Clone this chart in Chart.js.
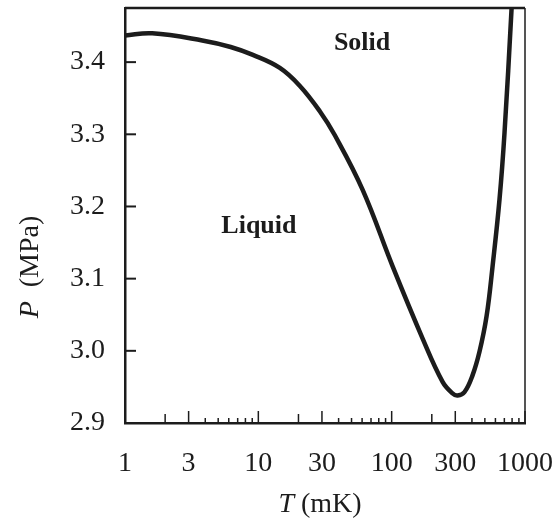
<!DOCTYPE html>
<html>
<head>
<meta charset="utf-8">
<script src="https://cdn.jsdelivr.net/npm/chart.js@4/dist/chart.umd.min.js"></script>
<style>
  body { margin: 0; background: #fff; }
  canvas { display: block; }
</style>
</head>
<body>
<canvas id="phase-chart" width="559" height="519"></canvas>
<script>
// Melting curve of 3He
const temps = [1.0, 1.6, 3.8, 6.2, 9.1, 14.5, 20.5, 28.9, 37.4, 60.6, 101.7, 170.7, 241, 286, 312, 352, 404, 456, 515, 571, 644, 702, 793, 806];
const pressures = [3.437, 3.440, 3.430, 3.421, 3.410, 3.392, 3.367, 3.332, 3.299, 3.223, 3.117, 3.017, 2.957, 2.941, 2.938, 2.943, 2.966, 2.999, 3.048, 3.117, 3.210, 3.302, 3.474, 3.506];

const xTickValues = [1, 3, 10, 30, 100, 300, 1000];
const xMinorTicks = [2, 4, 5, 6, 7, 8, 9, 20, 40, 50, 60, 70, 80, 90, 200, 400, 500, 600, 700, 800, 900];
const yTickValues = [2.9, 3.0, 3.1, 3.2, 3.3, 3.4];

// region labels placed in data coordinates
const regionLabels = [
    { text: 'Solid', t: 60, p: 3.426 },
    { text: 'Liquid', t: 10.1, p: 3.172 }
];

const serif = '"Liberation Serif", "DejaVu Serif", serif';
const ink = '#1c1c1c';

// inward ticks, frame, axis titles and region labels
const decorations = {
    id: 'decorations',
    afterDraw(chart) {
        const ctx = chart.ctx;
        const area = chart.chartArea;
        const x = chart.scales.x;
        const y = chart.scales.y;
        ctx.save();
        ctx.strokeStyle = ink;

        // top and right frame
        ctx.lineWidth = 2.5;
        ctx.beginPath();
        ctx.moveTo(area.left, area.top);
        ctx.lineTo(area.right, area.top);
        ctx.stroke();
        ctx.lineWidth = 1.5;
        ctx.beginPath();
        ctx.moveTo(area.right, area.top);
        ctx.lineTo(area.right, area.bottom);
        ctx.stroke();

        // x ticks pointing into the plot
        ctx.lineWidth = 1.5;
        xTickValues.forEach(v => {
            const px = x.getPixelForValue(v);
            ctx.beginPath();
            ctx.moveTo(px, area.bottom);
            ctx.lineTo(px, area.bottom - 12);
            ctx.stroke();
        });
        xMinorTicks.forEach(v => {
            const px = x.getPixelForValue(v);
            const len = String(v)[0] === '2' ? 9 : 5;
            ctx.beginPath();
            ctx.moveTo(px, area.bottom);
            ctx.lineTo(px, area.bottom - len);
            ctx.stroke();
        });

        // y ticks pointing into the plot
        ctx.lineWidth = 2;
        yTickValues.forEach(v => {
            const py = y.getPixelForValue(v);
            ctx.beginPath();
            ctx.moveTo(area.left, py);
            ctx.lineTo(area.left + 11, py);
            ctx.stroke();
        });

        // region labels
        ctx.fillStyle = ink;
        ctx.font = 'bold 26px ' + serif;
        ctx.textAlign = 'center';
        ctx.textBaseline = 'middle';
        regionLabels.forEach(l => {
            ctx.fillText(l.text, x.getPixelForValue(l.t), y.getPixelForValue(l.p));
        });

        // x axis title: italic T then (mK)
        ctx.textAlign = 'left';
        ctx.textBaseline = 'alphabetic';
        const italic = 'italic 28px ' + serif;
        const upright = '28px ' + serif;
        ctx.font = italic;
        const wT = ctx.measureText('T').width;
        ctx.font = upright;
        const wRest = ctx.measureText(' (mK)').width;
        let startX = 320 - (wT + wRest) / 2;
        ctx.font = italic;
        ctx.fillText('T', startX, 512);
        ctx.font = upright;
        ctx.fillText(' (mK)', startX + wT, 512);

        // y axis title rotated
        ctx.translate(38, 267);
        ctx.rotate(-Math.PI / 2);
        ctx.font = italic;
        const wP = ctx.measureText('P').width;
        ctx.font = upright;
        const wRestY = ctx.measureText('  (MPa)').width;
        startX = -(wP + wRestY) / 2;
        ctx.font = italic;
        ctx.fillText('P', startX, 0);
        ctx.font = upright;
        ctx.fillText('  (MPa)', startX + wP, 0);
        ctx.restore();
    }
};

const ctx = document.getElementById('phase-chart').getContext('2d');
const chart = new Chart(ctx, {
    type: 'line',
    data: {
        datasets: [{
            data: temps.map((t, i) => ({ x: t, y: pressures[i] })),
            borderColor: ink,
            borderWidth: 4.5,
            pointRadius: 0,
            fill: false,
            tension: 0.4
        }]
    },
    options: {
        responsive: false,
        animation: false,
        layout: { padding: { top: 8, right: 34, left: 0, bottom: 0 } },
        plugins: {
            legend: { display: false },
            tooltip: { enabled: false }
        },
        scales: {
            x: {
                type: 'logarithmic',
                min: 1,
                max: 1000,
                afterBuildTicks: scale => {
                    scale.ticks = xTickValues.map(v => ({ value: v }));
                },
                afterFit: scale => {
                    scale.height = 96;
                    scale.paddingLeft = 0;
                    scale.paddingRight = 0;
                },
                grid: { display: false, drawTicks: false },
                border: { display: true, color: ink, width: 2.5 },
                ticks: {
                    autoSkip: false,
                    maxRotation: 0,
                    padding: 24,
                    color: ink,
                    font: { family: serif, size: 28 },
                    callback: v => String(v)
                }
            },
            y: {
                min: 2.9,
                max: 3.475,
                afterBuildTicks: scale => {
                    scale.ticks = yTickValues.map(v => ({ value: v }));
                },
                afterFit: scale => {
                    scale.width = 125;
                    scale.paddingTop = 0;
                    scale.paddingBottom = 0;
                },
                grid: { display: false, drawTicks: false },
                border: { display: true, color: ink, width: 2.5 },
                ticks: {
                    padding: 20,
                    color: ink,
                    font: { family: serif, size: 28 },
                    callback: v => v.toFixed(1)
                }
            }
        }
    },
    plugins: [decorations]
});
</script>
</body>
</html>
